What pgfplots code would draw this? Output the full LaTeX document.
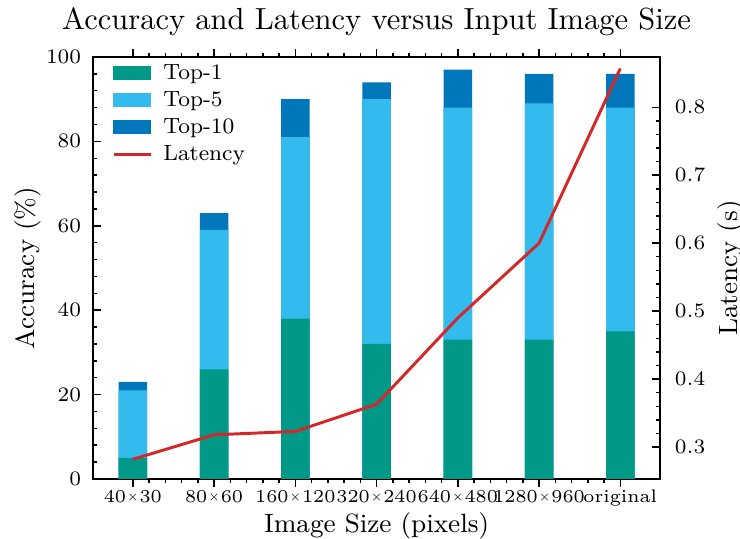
\documentclass[border=0pt]{standalone}
\usepackage{pgfplots}
\pgfplotsset{compat=1.18}

\definecolor{topone}{HTML}{009988}
\definecolor{topfive}{HTML}{33BBEE}
\definecolor{topten}{HTML}{0077BB}
\definecolor{latred}{HTML}{D62728}

\pgfplotstableread{
x top1 top5 top10 lat
0 5  21 23 0.282
1 26 59 63 0.318
2 38 81 90 0.323
3 32 90 94 0.363
4 33 88 97 0.490
5 33 89 96 0.600
6 35 88 96 0.857
}\datatable

% small multiplication sign between the two numbers, as in the x tick labels
\newcommand{\sz}[2]{#1\kern0.35pt\raisebox{0.7pt}{\scalebox{0.68}{$\times$}}\kern0.35pt#2}

\begin{document}
\begin{tikzpicture}
\useasboundingbox (-31.67pt,-20.43pt) rectangle (220.3pt,163.1pt);
\pgfplotsset{
  common/.style={
    scale only axis,
    width=193.1pt, height=143.7pt,
    at={(0,0)}, anchor=south west,
    xmin=-0.49, xmax=6.49,
    tick align=inside,
    major tick length=2.7pt,
    minor tick length=1.5pt,
    axis line style={line width=0.6pt},
    every tick/.style={black, line width=0.5pt},
    tick label style={font=\fontsize{7.5}{8}\selectfont},
    label style={font=\fontsize{9}{10}\selectfont},
  },
}
\begin{axis}[
  common,
  ymin=0, ymax=100,
  ytick={0,20,...,100},
  minor y tick num=4,
  ytick pos=left,
  yticklabel style={xshift=-0.5pt},
  xtick={0,...,6},
  xticklabels={\sz{40}{30},\sz{80}{60},\sz{160}{120},\sz{320}{240},\sz{640}{480},\sz{1280}{960},original},
  xticklabel style={font=\fontsize{6.2}{7}\selectfont, yshift=2.5pt},
  minor x tick num=4,
  ybar, bar width=0.35, bar shift=0pt,
  every axis title shift=0pt,
  title={Accuracy and Latency versus Input Image Size},
  title style={font=\fontsize{10.4}{12}\selectfont, at={(axis description cs:0.5,1.083)}, anchor=center, yshift=0pt},
  xlabel={Image Size (pixels)},
  xlabel style={at={(axis description cs:0.5,-0.11)}, anchor=center},
  ylabel={Accuracy (\%)},
  ylabel style={at={(axis description cs:-0.115,0.5)}, anchor=center},
  legend style={draw=none, fill=none, inner sep=0pt, at={(axis description cs:0.033,0.994)}, anchor=north west,
    font=\fontsize{7.5}{8}\selectfont, row sep=0.2pt,
    nodes={inner sep=1pt, text height=5.5pt, text depth=1.5pt}},
  legend cell align=left,
]
\addplot[fill=topten, draw=none, forget plot] table[x=x, y=top10] {\datatable};
\addplot[fill=topfive, draw=none, forget plot] table[x=x, y=top5] {\datatable};
\addplot[fill=topone, draw=none, forget plot] table[x=x, y=top1] {\datatable};
\addlegendimage{area legend, legend image code/.code={\fill[topone] (0pt,-2.2pt) rectangle (12.6pt,2.2pt); \path (15.7pt,0pt);}}
\addlegendentry{Top-1}
\addlegendimage{area legend, legend image code/.code={\fill[topfive] (0pt,-2.2pt) rectangle (12.6pt,2.2pt); \path (15.7pt,0pt);}}
\addlegendentry{Top-5}
\addlegendimage{area legend, legend image code/.code={\fill[topten] (0pt,-2.2pt) rectangle (12.6pt,2.2pt); \path (15.7pt,0pt);}}
\addlegendentry{Top-10}
\addlegendimage{legend image code/.code={\draw[latred, line width=1pt] (0pt,0pt) -- (12.6pt,0pt); \path (15.7pt,0pt);}}
\addlegendentry{Latency}
\end{axis}
\begin{axis}[
  common,
  axis x line=none,
  axis y line*=right,
  ymin=0.253, ymax=0.874,
  ytick={0.3,0.4,...,0.8},
  minor y tick num=4,
  yticklabel style={xshift=1.5pt, /pgf/number format/.cd, fixed, precision=1, fixed zerofill},
  ylabel={Latency (s)},
  ylabel style={at={(axis description cs:1.125,0.5)}, anchor=center},
]
\addplot[latred, line width=1pt, mark=none] table[x=x, y=lat] {\datatable};
\end{axis}
\end{tikzpicture}
\end{document}
